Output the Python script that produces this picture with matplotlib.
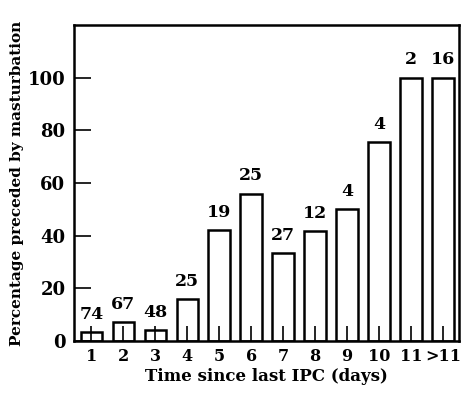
import numpy as np
import matplotlib.pyplot as plt

# categories and values
days = ['1', '2', '3', '4', '5', '6', '7', '8', '9', '10', '11', '>11']
pct = [3.5, 7.2, 4.2, 16, 42.1, 56, 33.3, 41.7, 50, 75.5, 100, 100]
counts = ['74', '67', '48', '25', '19', '25', '27', '12', '4', '4', '2', '16']

plt.rcParams['font.family'] = ['DejaVu Serif']
plt.rcParams['font.weight'] = 'bold'
plt.rcParams['axes.labelweight'] = 'bold'

fig = plt.figure(figsize=(4.73, 3.94), dpi=100)
ax = fig.add_axes([0.156, 0.1345, 0.814, 0.802])

x = np.arange(len(days))
bars = ax.bar(x, pct, width=0.67, color='white', edgecolor='black', linewidth=1.8)

for b, c in zip(bars, counts):
    ax.text(b.get_x() + b.get_width() / 2, b.get_height() + 3.5, c,
            ha='center', va='bottom', fontsize=12.5)

ax.set_xlim(-0.55, 11.5)
ax.set_ylim(0, 120)
ax.set_xticks(x)
ax.set_xticklabels(days)
ax.set_yticks([0, 20, 40, 60, 80, 100])
ax.tick_params(axis='x', direction='in', length=11, width=1.2, labelsize=11.5, pad=5)
ax.tick_params(axis='y', direction='in', length=12, width=1.2, labelsize=13, pad=6)
for s in ax.spines.values():
    s.set_linewidth(1.8)

ax.set_xlabel('Time since last IPC (days)', fontsize=12, labelpad=2)
ax.set_ylabel('Percentage preceded by masturbation', fontsize=11, labelpad=3)

plt.savefig('out.png', dpi=100)
